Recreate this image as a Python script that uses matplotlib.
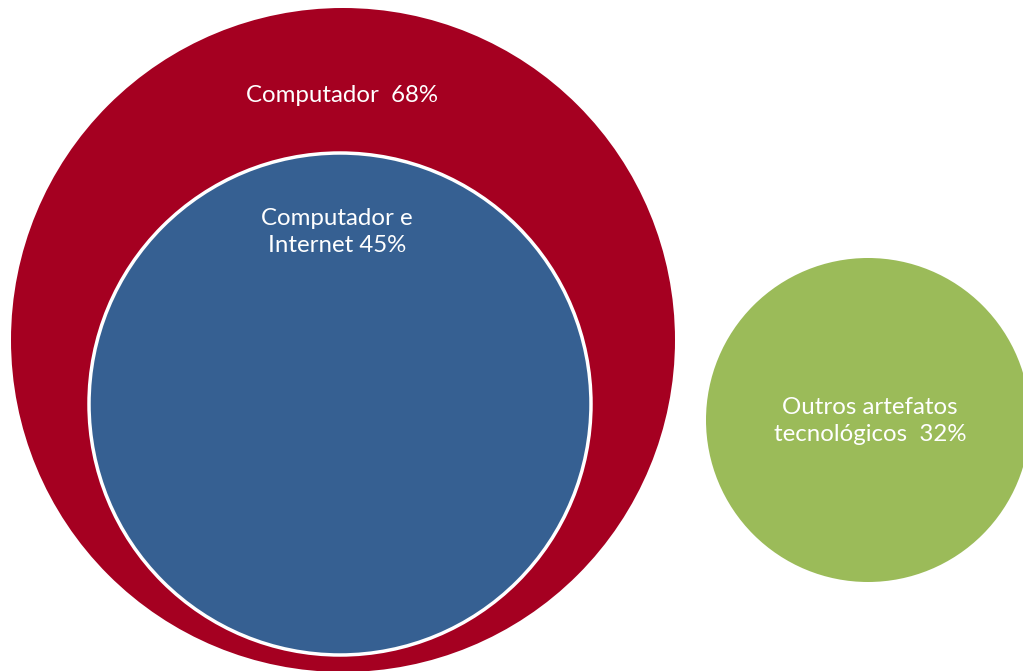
import matplotlib.pyplot as plt
from matplotlib.patches import Circle

# category labels and their shares (%)
labels = ['Computador', 'Computador e\nInternet', 'Outros artefatos\ntecnológicos']
shares = [68, 45, 32]
colors = ['#A50021', '#366092', '#9BBB59']

# layout in pixel coordinates (x, y from top-left)
centers = [(343, 340), (340, 404), (868, 420)]
radii = [332, 251, 162]
label_pos = [(342, 96), (337, 232), (870, 421)]
label_fmt = ['{}  {}%', '{} {}%', '{}  {}%']

fig = plt.figure(figsize=(10.23, 6.71), dpi=100)
ax = fig.add_axes([0, 0, 1, 1])
ax.set_xlim(0, 1023)
ax.set_ylim(671, 0)
ax.set_aspect('equal')
ax.axis('off')

for i, (c, r) in enumerate(zip(centers, radii)):
    edge = 'white' if i == 1 else 'none'
    ax.add_patch(Circle(c, r, facecolor=colors[i], edgecolor=edge, linewidth=2.5, zorder=i + 1))

for i, (x, y) in enumerate(label_pos):
    txt = label_fmt[i].format(labels[i], shares[i])
    ax.text(x, y, txt, ha='center', va='center', color='white', fontsize=17.3,
            family='Lato', linespacing=1.3, zorder=10)

plt.savefig('out.png', dpi=100)
